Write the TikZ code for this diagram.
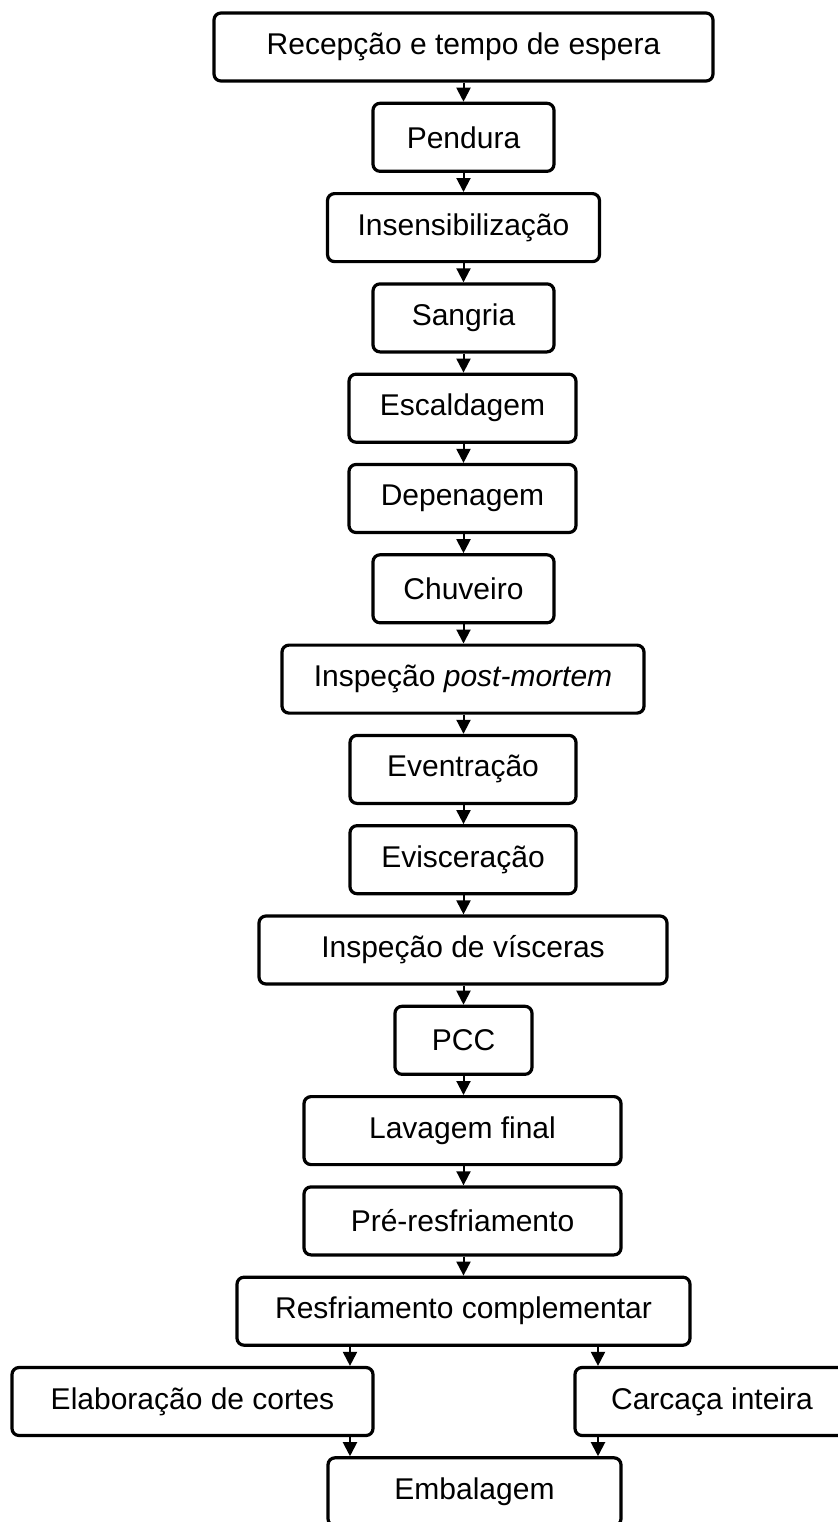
\documentclass[tikz,border=0pt]{standalone}
\usepackage{fontspec}
\setmainfont{Liberation Sans}
\usetikzlibrary{arrows.meta,calc}
\begin{document}
\begin{tikzpicture}[x=0.5pt,y=-0.5pt,
  box/.style={draw=black,line width=1.6pt,rounded corners=3.5pt,minimum height=34pt,inner sep=0pt,
    font=\fontsize{15pt}{18pt}\selectfont,fill=white},
  arr/.style={line width=1pt,-{Triangle[width=7pt,length=7pt]}}]
\clip (0,0) rectangle (838,1522);
\fill[white] (0,0) rectangle (838,1522);
\node[box,minimum width=249.5pt] (rec) at (463.5,47) {Recepção e tempo de espera};
\node[box,minimum width=90.5pt] (pen) at (463.5,137.3) {Pendura};
\node[box,minimum width=136pt] (ins) at (463.5,227.6) {Insensibilização};
\node[box,minimum width=90.5pt] (san) at (463.5,317.9) {Sangria};
\node[box,minimum width=113.5pt] (esc) at (462.5,408.2) {Escaldagem};
\node[box,minimum width=113.5pt] (dep) at (462.5,498.5) {Depenagem};
\node[box,minimum width=90.5pt] (chu) at (463.5,588.8) {Chuveiro};
\node[box,minimum width=181pt] (ipm) at (463,679.1) {Inspeção \textit{post-mortem}\hspace{8.5pt}};
\node[box,minimum width=113pt] (evt) at (463,769.4) {Eventração};
\node[box,minimum width=113pt] (evs) at (463,859.7) {Evisceração};
\node[box,minimum width=204pt] (ivi) at (463,950) {Inspeção de vísceras};
\node[box,minimum width=68.5pt] (pcc) at (463.5,1040.3) {PCC};
\node[box,minimum width=158.5pt] (lav) at (462.5,1130.6) {Lavagem final};
\node[box,minimum width=158.5pt] (pre) at (462.5,1220.9) {Pré-resfriamento};
\node[box,minimum width=226.5pt] (res) at (463.5,1311.2) {Resfriamento complementar};
\node[box,minimum width=180.5pt] (ela) at (192.5,1401.5) {Elaboração de cortes};
\node[box,minimum width=137pt] (car) at (712,1401.5) {Carcaça inteira};
\node[box,minimum width=146.5pt] (emb) at (474.5,1491.8) {Embalagem};
\coordinate (cl) at (350,0);
\coordinate (cr) at (598,0);
\draw[arr] (rec) -- (pen);
\draw[arr] (pen) -- (ins);
\draw[arr] (ins) -- (san);
\draw[arr] (san.south) -- (san.south |- esc.north);
\draw[arr] (esc.south -| san.south) -- (san.south |- dep.north);
\draw[arr] (dep.south -| san.south) -- (san.south |- chu.north);
\draw[arr] (chu.south) -- (chu.south |- ipm.north);
\draw[arr] (ipm.south -| chu.south) -- (chu.south |- evt.north);
\draw[arr] (evt.south -| chu.south) -- (chu.south |- evs.north);
\draw[arr] (evs.south -| chu.south) -- (chu.south |- ivi.north);
\draw[arr] (ivi.south -| chu.south) -- (chu.south |- pcc.north);
\draw[arr] (pcc.south -| chu.south) -- (chu.south |- lav.north);
\draw[arr] (lav.south -| chu.south) -- (chu.south |- pre.north);
\draw[arr] (pre.south -| chu.south) -- (chu.south |- res.north);
\draw[arr] (res.south -| cl) -- (ela.north -| cl);
\draw[arr] (res.south -| cr) -- (car.north -| cr);
\draw[arr] (ela.south -| cl) -- (emb.north -| cl);
\draw[arr] (car.south -| cr) -- (emb.north -| cr);
\end{tikzpicture}
\end{document}
